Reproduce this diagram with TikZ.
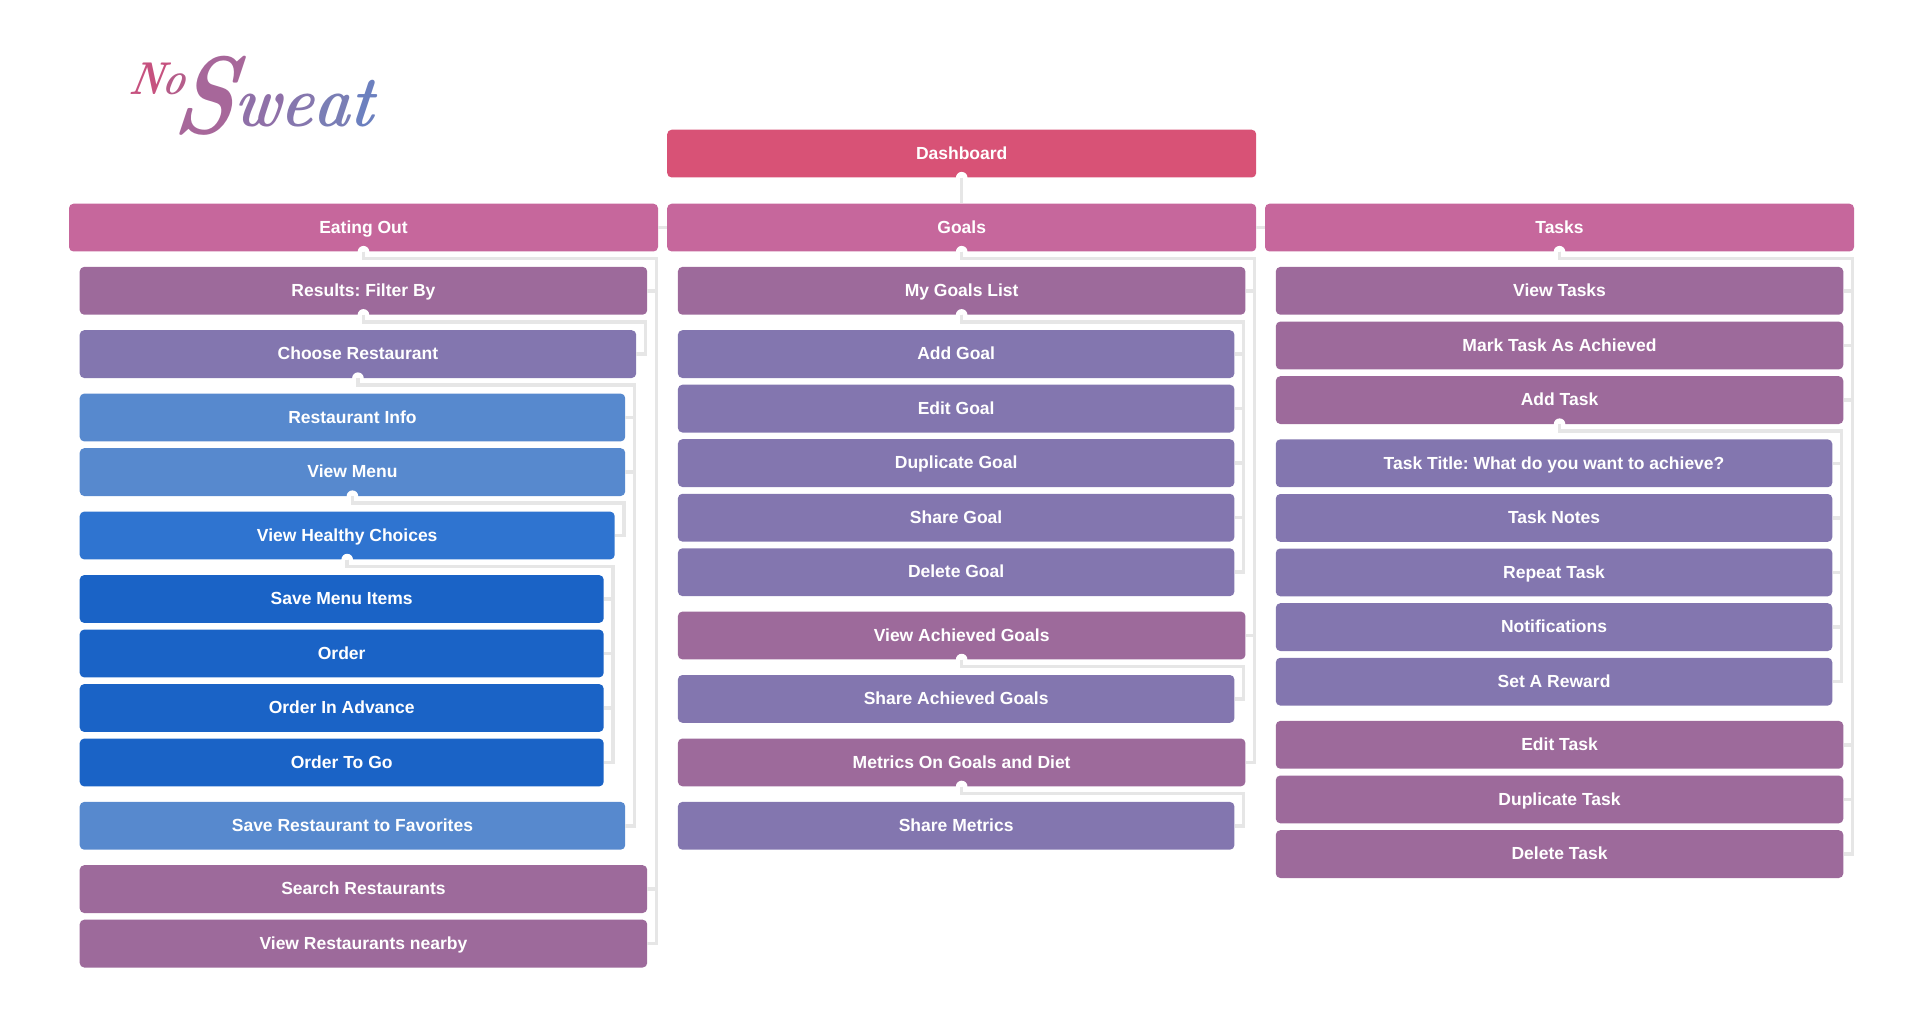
\documentclass[tikz,border=0pt]{standalone}
\usepackage{fontspec}
\setmainfont{Liberation Sans}
\newfontfamily\logofont{Latin Modern Roman}
\definecolor{wiregray}{HTML}{E6E6E6}
\definecolor{rosefill}{HTML}{D85276}
\definecolor{pinkfill}{HTML}{C6679C}
\definecolor{mauvefill}{HTML}{9D6A9B}
\definecolor{violetfill}{HTML}{8376AF}
\definecolor{skyfill}{HTML}{5789CE}
\definecolor{midfill}{HTML}{2F74D0}
\definecolor{deepfill}{HTML}{1A63C6}
\definecolor{logoa}{HTML}{C6527F}
\definecolor{logob}{HTML}{B55D8A}
\definecolor{logoc}{HTML}{A7679A}
\definecolor{logod}{HTML}{8F70A8}
\definecolor{logoe}{HTML}{8577AE}
\definecolor{logof}{HTML}{7A7EB5}
\definecolor{logog}{HTML}{6C80BF}
\tikzset{
  box/.style={anchor=north west, rounded corners=4.5pt, minimum height=47.8pt, inner sep=0pt,
    text=white, font=\fontsize{17.5}{20}\selectfont\bfseries\frenchspacing, text height=15pt, text depth=3.5pt},
  lvlzero/.style={box, fill=rosefill, minimum width=589pt},
  lvlone/.style={box, fill=pinkfill, minimum width=589pt},
  lvltwo/.style={box, fill=mauvefill, minimum width=567.5pt},
  lvlthree/.style={box, fill=violetfill, minimum width=556.5pt},
  lvlfour/.style={box, fill=skyfill, minimum width=545.5pt},
  lvlfive/.style={box, fill=midfill, minimum width=535pt},
  lvlsix/.style={box, fill=deepfill, minimum width=524pt},
  wire/.style={draw=wiregray, line width=3.5pt}
}
\begin{document}
\begin{tikzpicture}[x=1pt,y=-1pt]
  \useasboundingbox (0,0) rectangle (1920,1024);

  % logo
  \node[inner sep=0pt, anchor=base west, xslant=0.2, xscale=0.8, transform shape] (logono) at (128,95) {\logofont\itshape\bfseries\fontsize{46}{46}\selectfont\textcolor{logoa}{N}\textcolor{logob}{o}};
  \node[inner sep=0pt, anchor=base west, xslant=0.12, xscale=0.85, transform shape] (logosweat) at (172,127) {\logofont\itshape\bfseries\fontsize{110}{110}\selectfont\textcolor{logoc}{\raisebox{-7pt}{S}}\fontsize{72}{72}\selectfont\textcolor{logod}{w}\textcolor{logoe}{e}\textcolor{logof}{a}\textcolor{logog}{t}};

  % top
  \node[lvlzero] (dash) at (667,129.5) {Dashboard};
  \node[lvlone] (eating) at (68.8,203.5) {Eating Out};
  \node[lvlone] (goals) at (667,203.5) {Goals};
  \node[lvlone] (tasks) at (1264.8,203.5) {Tasks};

  % left column
  \node[lvltwo] (filterby) at (79.5,266.7) {Results: Filter By};
  \node[lvlthree] (choose) at (79.5,330) {Choose Restaurant};
  \node[lvlfour] (restinfo) at (79.5,393.4) {Restaurant Info};
  \node[lvlfour] (viewmenu) at (79.5,448) {View Menu};
  \node[lvlfive] (healthy) at (79.5,511.4) {View Healthy Choices};
  \node[lvlsix] (savemenu) at (79.5,574.9) {Save Menu Items};
  \node[lvlsix] (order) at (79.5,629.4) {Order};
  \node[lvlsix] (advance) at (79.5,683.9) {Order In Advance};
  \node[lvlsix] (togo) at (79.5,738.4) {Order To Go};
  \node[lvlfour] (favorites) at (79.5,801.7) {Save Restaurant to Favorites};
  \node[lvltwo] (searchrest) at (79.5,865) {Search Restaurants};
  \node[lvltwo] (nearby) at (79.5,919.5) {View Restaurants nearby};

  % middle column
  \node[lvltwo] (goallist) at (677.7,266.7) {My Goals List};
  \node[lvlthree] (addgoal) at (677.7,330) {Add Goal};
  \node[lvlthree] (editgoal) at (677.7,384.5) {Edit Goal};
  \node[lvlthree] (dupgoal) at (677.7,439) {Duplicate Goal};
  \node[lvlthree] (sharegoal) at (677.7,493.6) {Share Goal};
  \node[lvlthree] (delgoal) at (677.7,548.1) {Delete Goal};
  \node[lvltwo] (achieved) at (677.7,611.4) {View Achieved Goals};
  \node[lvlthree] (shareach) at (677.7,674.8) {Share Achieved Goals};
  \node[lvltwo] (metrics) at (677.7,738.3) {Metrics On Goals and Diet};
  \node[lvlthree] (sharemet) at (677.7,801.7) {Share Metrics};

  % right column
  \node[lvltwo] (viewtasks) at (1275.6,266.7) {View Tasks};
  \node[lvltwo] (marktask) at (1275.6,321.4) {Mark Task As Achieved};
  \node[lvltwo] (addtask) at (1275.6,376) {Add Task};
  \node[lvlthree] (tasktitle) at (1275.6,439.2) {Task Title: What do you want to achieve?};
  \node[lvlthree] (tasknotes) at (1275.6,493.8) {Task Notes};
  \node[lvlthree] (repeat) at (1275.6,548.3) {Repeat Task};
  \node[lvlthree] (notif) at (1275.6,603) {Notifications};
  \node[lvlthree] (reward) at (1275.6,657.6) {Set A Reward};
  \node[lvltwo] (edittask) at (1275.6,720.7) {Edit Task};
  \node[lvltwo] (duptask) at (1275.6,775.3) {Duplicate Task};
  \node[lvltwo] (deltask) at (1275.6,830) {Delete Task};

  % knobs
  \foreach \up in {dash, eating, goals, tasks, filterby, choose, viewmenu, healthy, goallist, achieved, metrics, addtask}
    \fill[white] (\up.south) circle (5.8pt);

  % connectors
  \draw[wire] (dash.south) -- (goals.north);
  \draw[wire] (eating.east) -- (goals.west);
  \draw[wire] (goals.east) -- (tasks.west);
  \foreach \up/\kid in {eating/filterby, eating/searchrest, eating/nearby,
      filterby/choose, choose/restinfo, choose/viewmenu, choose/favorites, viewmenu/healthy,
      healthy/savemenu, healthy/order, healthy/advance, healthy/togo,
      goals/goallist, goals/achieved, goals/metrics,
      goallist/addgoal, goallist/editgoal, goallist/dupgoal, goallist/sharegoal, goallist/delgoal,
      achieved/shareach, metrics/sharemet,
      tasks/viewtasks, tasks/marktask, tasks/addtask, tasks/edittask, tasks/duptask, tasks/deltask,
      addtask/tasktitle, addtask/tasknotes, addtask/repeat, addtask/notif, addtask/reward}
    \draw[wire] (\up.south) -- ++(0,7) -| ([xshift=9pt]\kid.east) -- (\kid.east);
\end{tikzpicture}
\end{document}
